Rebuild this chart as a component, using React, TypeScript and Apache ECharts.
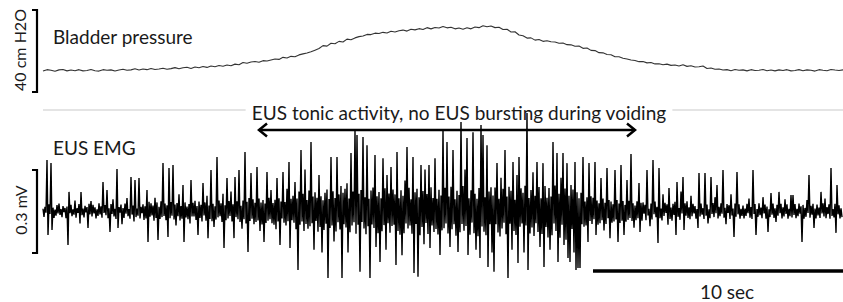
import React, { useEffect, useRef } from "react";
import * as echarts from "echarts";

// Bladder pressure (cmH2O), one sample every 0.16 s
const pressureDt = 0.16;
const pressure: number[] = [
  10.2, 10.9, 10.6, 10.1, 10.8, 11.0, 10.3, 10.7, 10.4, 10.9,
  10.3, 10.5, 11.0, 10.4, 10.2, 10.9, 10.6, 10.8, 10.2, 10.7,
  11.1, 10.6, 10.8, 11.3, 10.7, 11.2, 10.9, 11.5, 11.0, 11.2,
  11.6, 11.1, 11.4, 11.9, 11.3, 11.8, 12.1, 11.5, 12.2, 11.8,
  12.4, 12.0, 12.7, 12.3, 12.9, 12.6, 13.2, 12.8, 13.6, 13.3,
  14.4, 14.0, 14.6, 14.9, 14.5, 15.3, 15.1, 15.6, 16.1, 15.9,
  16.9, 16.6, 17.4, 17.2, 18.1, 18.6, 19.0, 19.6, 20.4, 21.2,
  22.6, 22.4, 23.8, 23.5, 24.7, 24.4, 25.8, 25.5, 26.4, 27.0,
  27.3, 28.1, 28.0, 28.7, 28.5, 29.1, 28.8, 29.6, 29.3, 29.9,
  30.2, 29.7, 30.6, 30.3, 30.9, 30.5, 31.4, 30.8, 31.5, 31.2,
  32.0, 31.3, 31.6, 30.8, 31.2, 30.6, 31.3, 30.8, 31.7, 31.4,
  32.3, 31.8, 32.2, 31.4, 31.6, 30.5, 30.6, 29.3, 29.4, 27.8,
  27.4, 26.3, 26.4, 25.3, 25.6, 24.7, 25.0, 24.5, 24.4, 23.8,
  23.9, 23.1, 23.0, 22.3, 22.4, 21.3, 21.5, 20.3, 20.2, 19.2,
  19.1, 18.3, 18.2, 17.2, 17.2, 16.5, 16.1, 15.6, 15.4, 14.8,
  14.9, 14.2, 14.4, 13.7, 13.8, 13.3, 13.6, 13.0, 13.2, 12.7,
  13.3, 12.5, 12.8, 12.2, 12.3, 12.7, 11.5, 11.7, 11.1, 11.2,
  10.7, 10.9, 10.4, 11.0, 10.6, 10.8, 10.3, 10.9, 10.5, 10.6,
  11.0, 10.4, 10.7, 10.3, 10.8, 10.5, 10.9, 10.3, 10.5, 10.9,
  10.4, 10.8, 10.6, 10.2, 10.9, 10.6, 10.4, 11.0, 10.7, 10.5, 10.8,
];

// EUS EMG (µV), one displayed sample every 0.04 s, in four segments
const emgDt = 0.04;
const emgA: number[] = [
  8, -21, 15, -6, 184, -87, 24, -11, 173, -69, 12, -25, 5, -17, 21, -9, 27, -14, 7, -22, 18, -4, 11, -26, 16, -123, 69, -8, 22, -19, 6, -13, 38, -24, 10, -7, 25, -45, 69, -15, 9, -23, 19, -5, 14, -61, 26, -12, 36, -20,
  22, -9, 13, -27, 6, -18, 28, -12, 17, -24, 105, -7, 21, -15, 76, -26, 10, -76, 25, -11, 42, -20, 8, -29, 152, -61, 14, -6, 23, -48, 11, -25, 27, -10, 47, -19, 7, -28, 123, -13, 20, -38, 112, -22, 9, -17, 119, -27, 15, -8,
  24, -32, 17, -27, 76, -112, 33, -21, 28, -16, 20, -35, 48, -25, 31, -105, 15, -29, 35, -22, 173, -18, 27, -33, 21, -94, 155, -26, 32, -17, 166, -31, 23, -52, 29, -19, 60, -34, 18, -28, 94, -112, 31, -23, 16, -30, 25, -45, 112, -20,
  30, -20, 37, -32, 18, -87, 34, -25, 22, -38, 101, -16, 31, -35, 55, -98, 20, -29, 148, -37, 26, -58, 17, -31, 195, -23, 38, -19, 28, -40, 62, -134, 21, -33, 119, -27, 36, -18, 70, -38, 24, -98, 123, -22, 35, -30, 148, -40, 19, -64,
];
const emgB: number[] = [
  38, -30, 213, -45, 33, -148, 47, -36, 137, -28, 42, -48, 30, -40, 159, -34, 45, -72, 31, -49, 40, -112, 27, -43, 141, -35, 48, -30, 76, -44, 29, -50, 41, -66, 119, -38, 46, -123, 34, -27, 141, -42, 32, -52, 80, -37, 177, -134, 44, -33,
  55, -42, 105, -66, 45, -213, 70, -50, 220, -38, 62, -72, 150, -47, 40, -64, 74, -55, 249, -44, 52, -140, 68, -36, 48, -75, 130, -58, 53, -150, 39, -69, 66, -46, 78, -242, 43, -61, 195, -52, 71, -110, 47, -74, 195, -41, 60, -67, 90, -242,
  66, -48, 80, -60, 100, -150, 45, -77, 210, -52, 70, -41, 293, -82, 275, -50, 62, -220, 76, -40, 267, -63, 50, -84, 238, -55, 44, -242, 74, -49, 85, -61, 202, -130, 53, -80, 69, -184, 46, -73, 191, -51, 82, -140, 130, -44, 63, -79, 159, -54,
  78, -50, 60, -195, 213, -72, 46, -86, 75, -160, 55, -80, 110, -45, 231, -63, 84, -52, 42, -82, 195, -224, 68, -47, 80, -238, 50, -88, 166, -58, 72, -120, 150, -43, 61, -83, 166, -134, 86, -52, 47, -76, 191, -65, 44, -85, 77, -159, 56, -70,
];
const emgC: number[] = [
  293, -62, 84, -45, 249, -81, 52, -130, 88, -66, 220, -48, 42, -89, 73, -148, 58, -77, 322, -47, 90, -71, 150, -54, 264, -159, 46, -86, 75, -42, 285, -80, 62, -140, 44, -91, 83, -170, 311, -56, 275, -75, 50, -88, 238, -202, 70, -48, 86, -150,
  56, -220, 85, -48, 173, -78, 44, -92, 120, -63, 80, -42, 220, -84, 52, -242, 88, -46, 73, -140, 177, -72, 41, -87, 130, -188, 195, -57, 82, -45, 66, -150, 91, -52, 354, -213, 47, -81, 76, -60, 140, -90, 55, -44, 177, -76, 87, -130, 46, -83,
  173, -202, 90, -58, 48, -96, 83, -140, 52, -88, 249, -45, 92, -72, 210, -184, 62, -97, 120, -50, 210, -123, 81, -104, 173, -170, 55, -184, 94, -65, 78, -150, 177, -213, 68, -206, 46, -206, 66, -48, 195, -57, 34, -52, 50, -112, 173, -36, 53, -47,
  48, -30, 177, -87, 38, -50, 28, -44, 119, -33, 45, -70, 30, -47, 155, -26, 40, -98, 34, -42, 24, -38, 148, -31, 40, -112, 27, -43, 166, -35, 36, -87, 22, -39, 112, -32, 37, -25, 206, -36, 28, -60, 20, -33, 35, -26, 101, -76, 30, -35,
];
const emgD: number[] = [
  31, -10, 22, -33, 148, -16, 8, -55, 27, -31, 184, -12, 34, -22, 15, -116, 155, -26, 9, -34, 60, -18, 30, -7, 24, -50, 83, -29, 12, -35, 26, -14, 33, -87, 105, -21, 11, -32, 70, -9, 123, -69, 28, -17, 35, -25, 13, -30, 55, -19,
  26, -9, 18, -28, 7, -61, 137, -20, 27, -13, 10, -29, 137, -17, 23, -45, 6, -26, 123, -11, 29, -22, 50, -8, 94, -27, 15, -19, 28, -10, 148, -24, 12, -48, 25, -7, 21, -29, 60, -16, 9, -94, 27, -21, 141, -12, 24, -28, 8, -18,
  20, -27, 9, -18, 26, -8, 45, -24, 14, -29, 148, -11, 25, -87, 7, -21, 28, -15, 12, -26, 50, -9, 23, -28, 16, -76, 6, -22, 65, -13, 27, -25, 10, -40, 22, -17, 69, -8, 26, -27, 13, -20, 42, -11, 24, -28, 8, -19, 58, -23,
  58, -14, 25, -26, 8, -19, 27, -10, 17, -112, 22, -28, 11, -21, 40, -7, 130, -24, 19, -13, 26, -61, 9, -27, 23, -16, 12, -25, 69, -9, 28, -20, 45, -26, 14, -11, 24, -28, 155, -18, 7, -23, 26, -79, 94, -12, 21, -27, 10, -22,
];

const traceEnd = 32; // seconds shown
const timeBarSeconds = 10;

const pressureLabel = "Bladder pressure";
const pressureScaleLabel = "40 cm H2O";
const emgLabel = "EUS EMG";
const emgScaleLabel = "0.3 mV";
const annotation = "EUS tonic activity, no EUS bursting during voiding";
const timeLabel = "10 sec";

const FONT = "Lato, 'Open Sans', sans-serif";
const INK = "#1a1a1a";

export default function App() {
  const ref = useRef<HTMLDivElement>(null);
  useEffect(() => {
    if (!ref.current) return;
    const chart = echarts.init(ref.current, undefined, { renderer: "svg" });
    const emg = [...emgA, ...emgB, ...emgC, ...emgD];
    const pData = pressure.map((v, i) => [i * pressureDt, v]);
    const eData = emg.map((v, i) => [i * emgDt, v]);
    const txt = (text: string, x: number, y: number, size: number, extra: any = {}) => ({
      type: "text",
      x,
      y,
      z: 1,
      style: { text, fill: INK, font: `${size}px ${FONT}`, textVerticalAlign: "middle", ...extra },
    });
    chart.setOption({
      animation: false,
      backgroundColor: "#fff",
      grid: [
        { left: 43, right: 0, top: 10, height: 82 },
        { left: 43, right: 0, top: 100.33, height: 199.2 },
      ],
      xAxis: [
        { type: "value", gridIndex: 0, min: 0, max: traceEnd, show: false },
        { type: "value", gridIndex: 1, min: 0, max: traceEnd, show: false },
      ],
      yAxis: [
        { type: "value", gridIndex: 0, min: 0, max: 40, show: false },
        { type: "value", gridIndex: 1, min: -320, max: 400, show: false },
      ],
      series: [
        {
          type: "line",
          xAxisIndex: 0,
          yAxisIndex: 0,
          data: pData,
          showSymbol: false,
          lineStyle: { color: "#333", width: 1.1 },
          z: 3,
        },
        {
          type: "line",
          xAxisIndex: 1,
          yAxisIndex: 1,
          data: eData,
          showSymbol: false,
          lineStyle: { color: "#000", width: 1.4, join: "bevel" },
          z: 3,
          markLine: {
            silent: true,
            symbol: "none",
            label: { show: false },
            lineStyle: { color: "#000", width: 3.5, type: "solid" },
            data: [[{ coord: [traceEnd - timeBarSeconds, -216] }, { coord: [traceEnd, -216] }]],
          },
        },
      ],
      graphic: [
        { type: "line", z: 0, shape: { x1: 43, y1: 110, x2: 843, y2: 110 }, style: { stroke: "#e4e4e4", lineWidth: 2 } },
        { type: "polyline", z: 1, shape: { points: [[32, 10], [37, 10], [37, 92], [32, 92]] }, style: { stroke: "#000", lineWidth: 2.2, fill: null } },
        { type: "polyline", z: 1, shape: { points: [[32, 170], [37, 170], [37, 253], [32, 253]] }, style: { stroke: "#000", lineWidth: 2.2, fill: null } },
        {
          type: "text", z: 1, x: 19, y: 50, rotation: Math.PI / 2,
          style: { text: pressureScaleLabel, fill: INK, font: `16px ${FONT}`, textAlign: "center", textVerticalAlign: "middle" },
        },
        {
          type: "text", z: 1, x: 20, y: 210, rotation: Math.PI / 2,
          style: { text: emgScaleLabel, fill: INK, font: `16px ${FONT}`, textAlign: "center", textVerticalAlign: "middle" },
        },
        txt(pressureLabel, 53, 36, 19),
        txt(emgLabel, 53, 147, 19),
        txt(annotation, 459, 112, 19, { textAlign: "center", backgroundColor: "#fff", padding: [0, 6] }),
        { type: "line", z: 1, shape: { x1: 259, y1: 130, x2: 635, y2: 130 }, style: { stroke: "#000", lineWidth: 2.5 } },
        { type: "polyline", z: 1, shape: { points: [[267, 123.5], [259, 130], [267, 136.5]] }, style: { stroke: "#000", lineWidth: 2.5, fill: null } },
        { type: "polyline", z: 1, shape: { points: [[627, 123.5], [635, 130], [627, 136.5]] }, style: { stroke: "#000", lineWidth: 2.5, fill: null } },
        txt(timeLabel, 727, 291, 19, { textAlign: "center" }),
      ],
    });
    return () => chart.dispose();
  }, []);
  return <div ref={ref} style={{ position: "fixed", left: 0, top: 0, width: 843, height: 302 }} />;
}
